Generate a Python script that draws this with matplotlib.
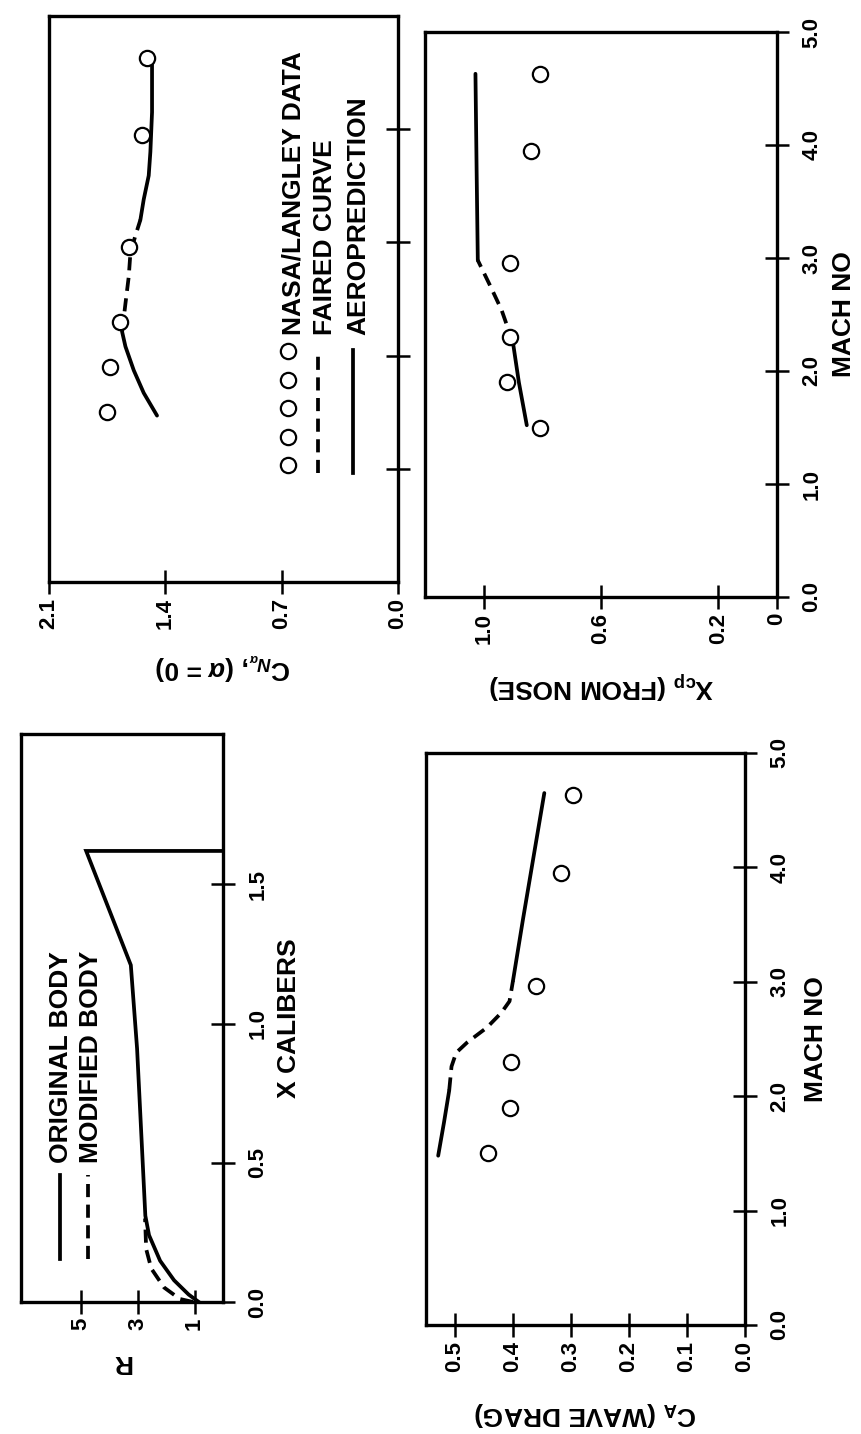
import matplotlib.pyplot as plt

plt.rcParams['font.family'] = ['Liberation Sans', 'DejaVu Sans']
plt.rcParams['font.weight'] = 'bold'
plt.rcParams['axes.labelweight'] = 'bold'
plt.rcParams['mathtext.fontset'] = 'custom'
plt.rcParams['mathtext.rm'] = 'Liberation Sans:bold'
plt.rcParams['mathtext.it'] = 'Liberation Sans:italic:bold'
plt.rcParams['mathtext.bf'] = 'Liberation Sans:bold'

# === Data ===
# wind tunnel points, shared Mach numbers
data_mach = [1.50, 1.90, 2.30, 2.96, 3.95, 4.63]

# normal force slope
cn_data = [1.75, 1.73, 1.67, 1.62, 1.54, 1.51]
cn_aero_lo_mach = [1.47, 1.67, 1.87, 2.08, 2.21]
cn_aero_lo = [1.45, 1.53, 1.59, 1.64, 1.66]
cn_faired_mach = [2.21, 2.46, 2.70, 2.91, 3.06, 3.20]
cn_faired = [1.66, 1.64, 1.62, 1.61, 1.58, 1.55]
cn_aero_hi_mach = [3.20, 3.38, 3.59, 3.80, 4.15, 4.39, 4.57]
cn_aero_hi = [1.55, 1.53, 1.50, 1.49, 1.48, 1.48, 1.48]

# center of pressure
xcp_data = [0.809, 0.922, 0.911, 0.910, 0.839, 0.808]
xcp_aero_lo_mach = [1.52, 1.90, 2.25]
xcp_aero_lo = [0.853, 0.880, 0.900]
xcp_faired_mach = [2.25, 2.54, 2.75, 2.98]
xcp_faired = [0.900, 0.939, 0.977, 1.020]
xcp_aero_hi_mach = [2.98, 3.77, 4.63]
xcp_aero_hi = [1.020, 1.024, 1.028]

# wave drag
ca_data = [0.443, 0.406, 0.403, 0.361, 0.317, 0.296]
ca_aero_lo_mach = [1.48, 1.77, 2.05]
ca_aero_lo = [0.529, 0.519, 0.510]
ca_faired_mach = [2.05, 2.26, 2.38, 2.47, 2.60, 2.73, 2.83, 3.01]
ca_faired = [0.510, 0.506, 0.498, 0.479, 0.445, 0.420, 0.406, 0.400]
ca_aero_hi_mach = [3.01, 3.54, 4.08, 4.65]
ca_aero_hi = [0.400, 0.383, 0.365, 0.346]

# body shapes
orig_x = [0.0, 0.027, 0.078, 0.148, 0.24, 0.31, 0.91, 1.21, 1.62, 1.62]
orig_r = [0.85, 1.21, 1.72, 2.21, 2.60, 2.73, 3.02, 3.24, 4.81, 0.0]
mod_x = [0.0, 0.011, 0.052, 0.12, 0.19, 0.30]
mod_r = [1.05, 1.52, 2.07, 2.52, 2.70, 2.74]

mach_ticks = [0, 1, 2, 3, 4, 5]
mach_labels = ['0.0', '1.0', '2.0', '3.0', '4.0', '5.0']

# === Figure (drawn turned a quarter, like the scanned page) ===
W, H = 862, 1434
fig = plt.figure(figsize=(W / 100, H / 100), dpi=100)

LW = 2.7
TICK_FS = 16
LABEL_FS = 19


def panel(left, top, right, bottom):
    return fig.add_axes([left / W, 1 - bottom / H, (right - left) / W, (bottom - top) / H])


def style(ax, xlim, ylim, xticks, xlabels, yticks, ylabels):
    ax.set_xlim(*xlim)
    ax.set_ylim(*ylim)
    for s in ax.spines.values():
        s.set_linewidth(2.4)
    ax.yaxis.tick_right()
    ax.yaxis.set_label_position('right')
    ax.tick_params(direction='inout', length=17, width=1.8,
                   top=False, left=False, bottom=True, right=True)
    ax.tick_params(axis='x', pad=3)
    ax.tick_params(axis='y', pad=9)
    ax.set_xticks(xticks, xlabels, rotation=90, ha='center', va='top', fontsize=TICK_FS)
    ax.set_yticks(yticks, ylabels, rotation=90, ha='left', va='center', fontsize=TICK_FS)


def plot_lines(ax, lo_v, lo_m, f_v, f_m, hi_v, hi_m, data_v):
    ax.plot(lo_v, lo_m, color='black', lw=LW, solid_capstyle='round')
    ax.plot(f_v, f_m, color='black', lw=LW, dashes=(3.5, 2))
    ax.plot(hi_v, hi_m, color='black', lw=LW, solid_capstyle='round')
    ax.plot(data_v, data_mach, 'o', ls='none', mfc='white', mec='black', ms=11, mew=1.6)


# --- C_N panel ---
ax1 = panel(49, 16, 398, 582)
plot_lines(ax1, cn_aero_lo, cn_aero_lo_mach, cn_faired, cn_faired_mach,
           cn_aero_hi, cn_aero_hi_mach, cn_data)
style(ax1, (2.1, 0), (0, 5), [2.1, 1.4, 0.7, 0.0], ['2.1', '1.4', '0.7', '0.0'],
      [1, 2, 3, 4], ['', '', '', ''])
ax1.set_xlabel(r'C$_{N_\alpha}$, ($\alpha$ = 0)', rotation=180, fontsize=LABEL_FS,
               fontweight='bold', labelpad=16)

# legend, drawn by hand so it turns with the page
ax1.plot([0.685] * 5, [0.408, 0.357, 0.307, 0.256, 0.207], 'o', ls='none',
         mfc='white', mec='black', ms=11, mew=1.6, transform=ax1.transAxes)
ax1.plot([0.771, 0.771], [0.193, 0.41], color='black', lw=LW, dashes=(3.5, 2),
         transform=ax1.transAxes)
ax1.plot([0.871, 0.871], [0.193, 0.41], color='black', lw=LW, transform=ax1.transAxes)
for xt, txt in [(0.702, 'NASA/LANGLEY DATA'), (0.791, 'FAIRED CURVE'), (0.887, 'AEROPREDICTION')]:
    ax1.text(xt, 0.436, txt, rotation=90, ha='center', va='bottom', fontsize=LABEL_FS,
             fontweight='bold', transform=ax1.transAxes)

# --- X_cp panel ---
ax2 = panel(425, 32, 777, 597)
plot_lines(ax2, xcp_aero_lo, xcp_aero_lo_mach, xcp_faired, xcp_faired_mach,
           xcp_aero_hi, xcp_aero_hi_mach, xcp_data)
style(ax2, (1.2, 0), (0, 5), [1.0, 0.6, 0.2, 0.0], ['1.0', '0.6', '0.2', '0'],
      mach_ticks, mach_labels)
ax2.set_xlabel(r'X$_{\mathrm{cp}}$ (FROM NOSE)', rotation=180, fontsize=LABEL_FS,
               fontweight='bold', labelpad=18)
ax2.set_ylabel('MACH NO', rotation=90, fontsize=LABEL_FS, fontweight='bold', labelpad=7)

# --- body shape panel ---
ax3 = panel(21, 734, 223, 1302)
ax3.plot(orig_r, orig_x, color='black', lw=LW, solid_joinstyle='miter')
ax3.plot(mod_r, mod_x, color='black', lw=LW, dashes=(3.5, 2))
style(ax3, (7.1, 0), (0, 2.04), [5, 3, 1], ['5', '3', '1'],
      [0.0, 0.5, 1.0, 1.5], ['0.0', '0.5', '1.0', '1.5'])
ax3.set_xlabel('R', rotation=180, fontsize=LABEL_FS, fontweight='bold', labelpad=14)
ax3.set_ylabel('X CALIBERS', rotation=90, fontsize=LABEL_FS, fontweight='bold', labelpad=6)
ax3.plot([0.191, 0.191], [0.075, 0.224], color='black', lw=LW, transform=ax3.transAxes)
ax3.plot([0.33, 0.33], [0.075, 0.224], color='black', lw=LW, dashes=(3.5, 2),
         transform=ax3.transAxes)
ax3.text(0.196, 0.245, 'ORIGINAL BODY', rotation=90, ha='center', va='bottom',
         fontsize=LABEL_FS, fontweight='bold', transform=ax3.transAxes)
ax3.text(0.345, 0.245, 'MODIFIED BODY', rotation=90, ha='center', va='bottom',
         fontsize=LABEL_FS, fontweight='bold', transform=ax3.transAxes)

# --- C_A panel ---
ax4 = panel(426, 753, 745, 1325)
plot_lines(ax4, ca_aero_lo, ca_aero_lo_mach, ca_faired, ca_faired_mach,
           ca_aero_hi, ca_aero_hi_mach, ca_data)
style(ax4, (0.55, 0), (0, 5), [0.5, 0.4, 0.3, 0.2, 0.1, 0.0],
      ['0.5', '0.4', '0.3', '0.2', '0.1', '0.0'], mach_ticks, mach_labels)
ax4.set_xlabel(r'C$_{\mathrm{A}}$ (WAVE DRAG)', rotation=180, fontsize=LABEL_FS,
               fontweight='bold', labelpad=20)
ax4.set_ylabel('MACH NO', rotation=90, fontsize=LABEL_FS, fontweight='bold', labelpad=10)

fig.savefig('out.png', dpi=100)
plt.close(fig)
